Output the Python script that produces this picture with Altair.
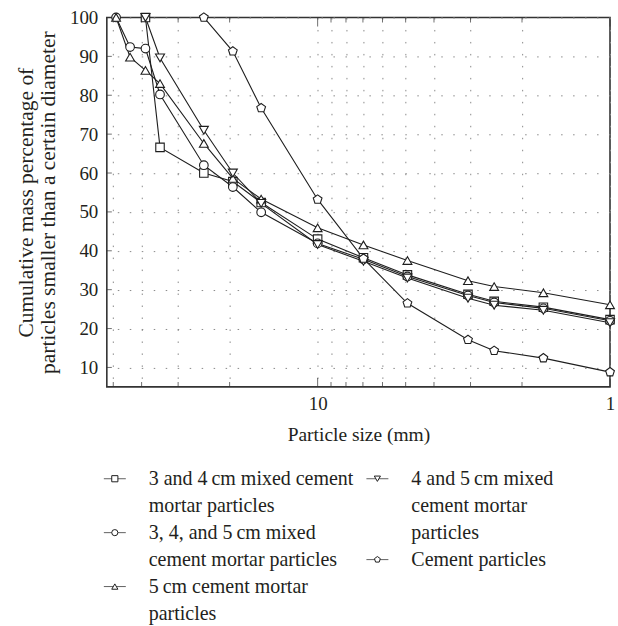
import altair as alt
import pandas as pd

# ---------------- data ----------------
particle_size = [48.9, 43.8, 38.8, 34.6, 24.5, 19.5, 15.6, 10.0, 6.97, 4.93, 3.06, 2.49, 1.69, 1.0]

series_names = [
    "3 and 4\u2009cm mixed cement mortar particles",
    "3, 4, and 5\u2009cm mixed cement mortar particles",
    "5\u2009cm cement mortar particles",
    "4 and 5\u2009cm mixed cement mortar particles",
    "Cement particles",
]

mix_34 = [None, None, 100, 66.6, 60.0, 57.8, 52.4, 43.0, 38.2, 33.8, 28.8, 27.0, 25.5, 22.3]
mix_345 = [100, 92.4, 92.0, 80.2, 62.0, 56.4, 49.9, 41.9, 37.8, 33.4, 28.5, 26.7, 25.2, 22.0]
mortar_5 = [100, 89.8, 86.4, 83.0, 67.6, 58.6, 53.3, 45.9, 41.5, 37.5, 32.3, 30.8, 29.2, 26.1]
mix_45 = [None, None, 100, 89.6, 71.0, 60.0, 52.2, 41.6, 37.3, 33.0, 27.8, 26.0, 24.7, 21.5]
cement = [None, None, None, None, 100, 91.3, 76.7, 53.2, 38.0, 26.5, 17.1, 14.3, 12.4, 8.8]

x_tick_values = [1, 2, 3, 4, 5, 6, 7, 8, 9, 10, 20, 30, 40, 50]
x_label_values = [1, 10]
y_tick_values = [10, 20, 30, 40, 50, 60, 70, 80, 90, 100]
x_domain = [1, 52.6]
y_domain = [5, 100]

legend_lines = [
    ["3 and 4\u2009cm mixed cement", "mortar particles"],
    ["3, 4, and 5\u2009cm mixed", "cement mortar particles"],
    ["5\u2009cm cement mortar", "particles"],
    ["4 and 5\u2009cm mixed", "cement mortar", "particles"],
    ["Cement particles"],
]
legend_column = [0, 0, 0, 1, 1]

# ---------------- tables ----------------
records = []
for name, vals in zip(series_names, [mix_34, mix_345, mortar_5, mix_45, cement]):
    for s, v in zip(particle_size, vals):
        if v is not None:
            records.append({"series": name, "size": s, "pct": v})
df = pd.DataFrame(records)

minor_x = [v for v in x_tick_values if v not in x_label_values]
bottom_minor = pd.DataFrame({"size": minor_x, "pct": [y_domain[0]] * len(minor_x)})
bottom_major = pd.DataFrame({"size": x_label_values, "pct": [y_domain[0]] * len(x_label_values)})
top_minor = pd.DataFrame({"size": minor_x, "pct": [y_domain[1]] * len(minor_x)})
top_major = pd.DataFrame({"size": x_label_values, "pct": [y_domain[1]] * len(x_label_values)})
left_ticks = pd.DataFrame({"size": [x_domain[1]] * len(y_tick_values), "pct": y_tick_values})

leg_rows = []
next_row = [0, 0]
for i, name in enumerate(series_names):
    c = legend_column[i]
    for j, t in enumerate(legend_lines[i]):
        leg_rows.append({"series": name, "col": c, "row": next_row[c] + j, "text": t, "first": j == 0})
    next_row[c] += len(legend_lines[i])
leg_df = pd.DataFrame(leg_rows)

# ---------------- styling ----------------
FONT = "Liberation Serif"
INK = "#231f20"
LINE = "#1e1e1e"
pentagon = "M0,-1L0.951,-0.309L0.588,0.809L-0.588,0.809L-0.951,-0.309Z"
shape_scale = alt.Scale(domain=series_names,
                        range=["square", "circle", "triangle-up", "triangle-down", pentagon])
size_scale = alt.Scale(domain=series_names, range=[72, 85, 115, 115, 100])

x_scale = alt.Scale(type="log", domain=x_domain, reverse=True, nice=False)
y_scale = alt.Scale(domain=y_domain, nice=False, zero=False)

x_axis = alt.Axis(
    values=x_tick_values,
    labelExpr="datum.value == 10 || datum.value == 1 ? format(datum.value, 'd') : ''",
    grid=True, gridDash=[1.5, 10.5], gridColor="#8a8a8a", gridWidth=1,
    ticks=False, domain=False, labelFlush=False, labelPadding=8,
    title="Particle size (mm)", titlePadding=12, titleFontSize=19.5,
)
y_axis = alt.Axis(
    values=y_tick_values,
    grid=True, gridDash=[1.5, 10.5], gridColor="#8a8a8a", gridWidth=1,
    ticks=False, domain=False, labelPadding=9,
    title=["Cumulative mass percentage of", "particles smaller than a certain diameter"],
    titlePadding=10, titleLineHeight=22, titleFontSize=21.5,
)

x_enc = alt.X("size:Q", scale=x_scale, axis=x_axis)
y_enc = alt.Y("pct:Q", scale=y_scale, axis=y_axis)

base = alt.Chart(df)
lines = base.mark_line(color=LINE, strokeWidth=1.1).encode(x=x_enc, y=y_enc, detail="series:N")
points = base.mark_point(filled=True, fill="white", stroke=LINE, strokeWidth=1.1, opacity=1).encode(
    x=x_enc, y=y_enc,
    shape=alt.Shape("series:N", scale=shape_scale, legend=None),
    size=alt.Size("series:O", scale=size_scale, legend=None),
)

def tick_layer(data, orient, length, **off):
    return alt.Chart(data).mark_tick(orient=orient, size=length, thickness=1, color="#333", **off).encode(
        x=x_enc, y=y_enc)

ticks = [
    tick_layer(bottom_minor, "vertical", 5, yOffset=-2.5),
    tick_layer(bottom_major, "vertical", 9, yOffset=-4.5),
    tick_layer(top_minor, "vertical", 5, yOffset=2.5),
    tick_layer(top_major, "vertical", 9, yOffset=4.5),
    tick_layer(left_ticks, "horizontal", 5, xOffset=2.5),
]

main = alt.layer(lines, points, *ticks).properties(
    width=504, height=370,
    view=alt.ViewBackground(stroke="#333", strokeWidth=1.6),
)

# ---------------- legend panel ----------------
lx = alt.X("col:Q", scale=alt.Scale(domain=[0, 1], nice=False, zero=False), axis=None)
ly = alt.Y("row:Q", scale=alt.Scale(domain=[0, 5], nice=False, reverse=True), axis=None)
leg_base = alt.Chart(leg_df)
leg_dash = leg_base.transform_filter("datum.first").mark_tick(
    orient="horizontal", size=22, thickness=1, color=LINE, xOffset=8, yOffset=-6
).encode(x=lx, y=ly)
leg_sym = leg_base.transform_filter("datum.first").mark_point(
    filled=True, fill="white", stroke=LINE, strokeWidth=1, opacity=1, size=38, xOffset=8, yOffset=-6
).encode(x=lx, y=ly, shape=alt.Shape("series:N", scale=shape_scale, legend=None))
leg_text = leg_base.mark_text(
    align="left", baseline="alphabetic", dx=42, fontSize=20, font=FONT, color=INK
).encode(x=lx, y=ly, text="text:N")

legend = alt.layer(leg_dash, leg_sym, leg_text).properties(width=263, height=135)

chart = alt.vconcat(main, legend, spacing=98, bounds="flush").properties(
    padding={"left": 14, "top": 7, "right": 0, "bottom": 0}
).configure(font=FONT).configure_view(stroke="transparent").configure_axis(
    labelFont=FONT, labelFontSize=19, labelColor=INK,
    titleFont=FONT, titleFontSize=19, titleColor=INK, titleFontWeight="normal",
)

chart.save("out.html", embed_options={"renderer": "svg", "actions": False})
